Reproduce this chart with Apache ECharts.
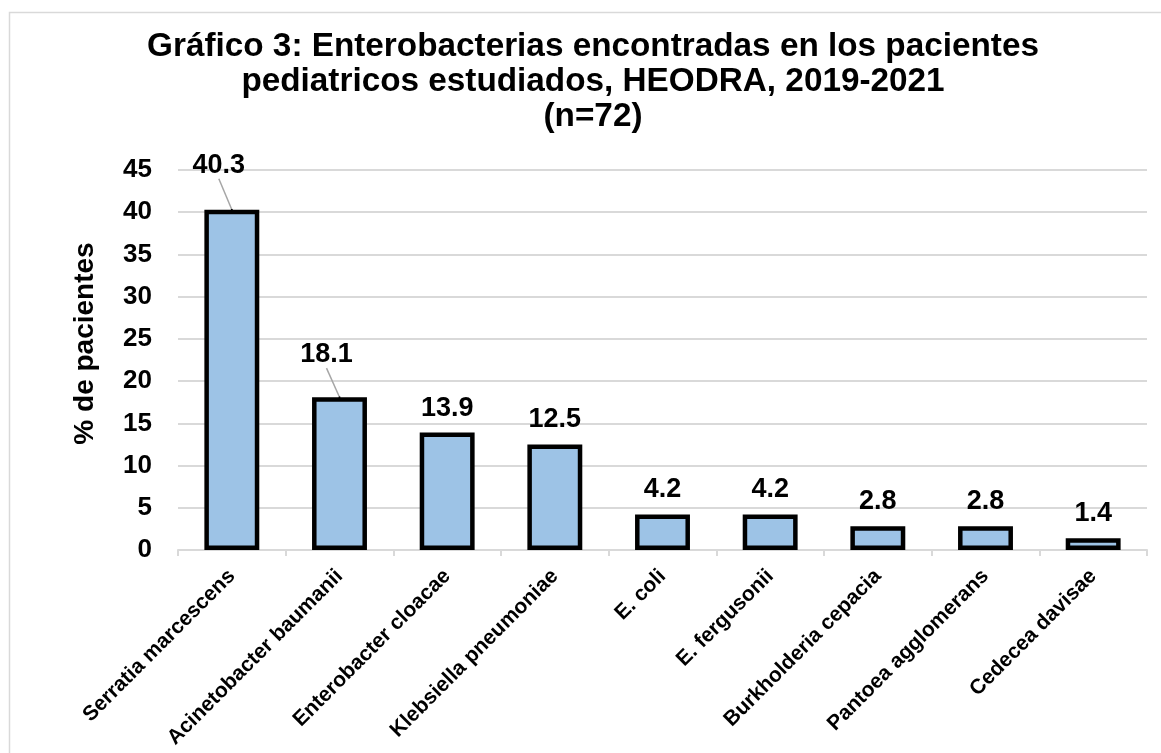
<!DOCTYPE html>
<html>
<head>
<meta charset="utf-8">
<script src="https://cdn.jsdelivr.net/npm/echarts@6/dist/echarts.min.js"></script>
<style>html,body{margin:0;padding:0;background:#fff}#c{width:1161px;height:753px}</style>
</head>
<body>
<div id="c"></div>
<script>
const categories = ["Serratia marcescens","Acinetobacter baumanii","Enterobacter cloacae","Klebsiella pneumoniae","E. coli","E. fergusonii","Burkholderia cepacia","Pantoea agglomerans","Cedecea davisae"];
const values = [40.3, 18.1, 13.9, 12.5, 4.2, 4.2, 2.8, 2.8, 1.4];
const yTicks = [0, 5, 10, 15, 20, 25, 30, 35, 40, 45];
const titleText = "Gráfico 3: Enterobacterias encontradas en los pacientes\npediatricos estudiados, HEODRA, 2019-2021\n(n=72)";
const yName = "% de pacientes";
// categories whose value label is moved off the bar with a leader line
const leaderIdx = [0, 1];

const FONT = 'Liberation Sans, Arial, sans-serif';
const labelStyle = {fontFamily: FONT, fontWeight: 'bold', fontSize: 27, color: '#000'};

const barData = values.map((v, i) => leaderIdx.includes(i) ? {value: v, label: {show: false}} : v);
const leaderData = leaderIdx.map(i => [i, values[i]]);

const chart = echarts.init(document.getElementById('c'), null, {renderer: 'canvas'});
chart.setOption({
  animation: false,
  backgroundColor: '#fff',
  graphic: [{
    type: 'rect', left: 7, top: 10, z: -1,
    shape: {width: 1200, height: 800},
    style: {fill: 'none', stroke: '#D9D9D9', lineWidth: 1.5}
  }],
  title: {
    text: titleText, left: 588, top: 24, textAlign: 'center',
    textStyle: {fontFamily: FONT, fontWeight: 'bold', fontSize: 33.3, lineHeight: 35, color: '#000'}
  },
  grid: {left: 178, right: 14, top: 170, bottom: 203},
  xAxis: {
    type: 'category', data: categories,
    axisLine: {lineStyle: {color: '#D9D9D9', width: 2}},
    axisTick: {show: true, length: 6, lineStyle: {color: '#D9D9D9', width: 2}},
    axisLabel: {rotate: 45, interval: 0, margin: 23, fontFamily: FONT, fontWeight: 'bold', fontSize: 21, color: '#000'}
  },
  yAxis: {
    type: 'value', min: 0, max: 45, interval: 5,
    name: yName, nameLocation: 'middle', nameGap: 79, nameRotate: 90,
    nameTextStyle: {fontFamily: FONT, fontWeight: 'bold', fontSize: 28, color: '#000', padding: [0, 0, 0, 33]},
    axisLine: {show: false}, axisTick: {show: false},
    axisLabel: {fontFamily: FONT, fontWeight: 'bold', fontSize: 26, color: '#000', margin: 26,
      formatter: v => yTicks.includes(v) ? String(v) : ''},
    splitLine: {lineStyle: {color: '#D9D9D9', width: 2}}
  },
  series: [{
    type: 'bar', data: barData, barWidth: '51%',
    itemStyle: {color: '#9DC3E6', borderColor: '#000', borderWidth: 4.5},
    label: Object.assign({show: true, position: 'top', distance: 11, formatter: p => p.value.toFixed(1)}, labelStyle)
  }, {
    type: 'scatter', data: leaderData, symbolSize: 2, z: 5,
    itemStyle: {color: '#000', opacity: 1},
    label: Object.assign({show: true, position: 'top', distance: 0, opacity: 1, textBorderWidth: 0,
      formatter: p => p.value[1].toFixed(1)}, labelStyle),
    labelLine: {show: true, lineStyle: {color: '#A6A6A6', width: 1.5}},
    labelLayout: function (p) {
      return {dx: -13, dy: p.dataIndex === 0 ? -30 : -28};
    }
  }]
});
</script>
</body>
</html>
